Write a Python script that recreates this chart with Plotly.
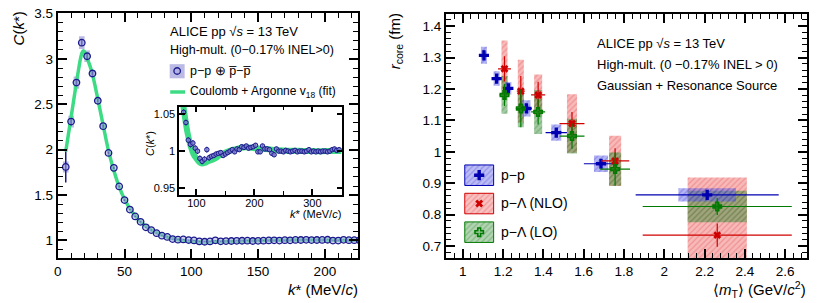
import plotly.graph_objects as go

W, H = 830, 303
FONT = "Liberation Sans, Arial, Helvetica, sans-serif"

# ---------------- left panel: p-p correlation function ----------------
k_star = [6, 10, 14, 18, 22, 26, 30, 34, 38, 42, 46, 50, 54, 58, 62, 66, 70, 74, 78, 82,
          86, 90, 94, 98, 102, 106, 110, 114, 118, 122, 126, 130, 134, 138, 142, 146, 150, 154, 158, 162,
          166, 170, 174, 178, 182, 186, 190, 194, 198, 202, 206, 210, 214, 218, 222, 226, 230, 234, 238, 242,
          246, 250, 254, 258, 262, 266, 270, 274, 278, 282, 286, 290, 294, 298, 302, 306, 310, 314, 318, 322,
          326, 330, 334, 338, 342, 346]
c_pp = [1.81, 2.31, 2.74, 3.18, 3.03, 2.84, 2.54, 2.26, 1.965, 1.80, 1.595, 1.445, 1.34, 1.265, 1.205, 1.145, 1.115, 1.08, 1.053, 1.039,
        1.015, 1.009, 1.011, 1.004, 1.000, 0.990, 0.986, 0.989, 1.002, 0.991, 0.993, 0.994, 0.996, 0.997, 0.998, 0.994, 0.996, 0.998, 1.000, 1.002,
        0.999, 1.003, 1.002, 1.006, 1.005, 1.007, 1.004, 1.005, 1.006, 1.008, 0.999, 0.999, 1.007, 1.003, 1.003, 1.002, 0.997, 0.995, 1.003, 1.000,
        1.000, 0.999, 1.001, 1.000, 0.999, 1.000, 1.001, 0.999, 1.000, 1.000, 0.999, 1.000, 1.002, 0.999, 1.000, 0.999, 1.000, 0.999, 1.000, 1.000,
        0.999, 1.000, 1.002, 1.003, 1.001, 1.002]
c_stat = [0.17, 0.04, 0.035, 0.035, 0.03, 0.025, 0.02, 0.018, 0.015, 0.012, 0.010, 0.009, 0.008, 0.007, 0.006, 0.005, 0.005, 0.004, 0.004, 0.004,
          0.004, 0.004, 0.004, 0.004, 0.004, 0.004, 0.004, 0.004, 0.004, 0.004, 0.003, 0.003, 0.003, 0.003, 0.003, 0.003, 0.003, 0.003, 0.003, 0.003,
          0.003, 0.003, 0.003, 0.003, 0.003, 0.003, 0.003, 0.003, 0.003, 0.003, 0.003, 0.003, 0.003, 0.003, 0.003, 0.003, 0.003, 0.003, 0.003, 0.003,
          0.003, 0.003, 0.003, 0.003, 0.003, 0.003, 0.003, 0.003, 0.003, 0.003, 0.003, 0.003, 0.003, 0.003, 0.003, 0.003, 0.003, 0.003, 0.003, 0.003,
          0.003, 0.003, 0.003, 0.003, 0.003, 0.003]
k_sys = [6, 10, 14, 18, 22, 26, 30, 34]
c_sys_val = [1.81, 2.31, 2.74, 3.18, 3.03, 2.84, 2.54, 2.26]
c_sys = [0.06, 0.065, 0.068, 0.07, 0.063, 0.04, 0.035, 0.032]

fit_k = [6, 8, 10, 12, 14, 16, 17, 18, 19, 20, 21, 22, 24, 26, 28, 30, 34, 38, 42, 46, 50, 55, 60, 65, 70, 75,
         80, 85, 90, 95, 100, 105, 110, 115, 120, 130, 140, 150, 160, 170, 180, 190, 200, 215, 230, 250, 275, 300, 325, 350]
fit_c = [1.98, 2.17, 2.36, 2.55, 2.74, 2.92, 3.00, 3.06, 3.09, 3.08, 3.05, 3.01, 2.93, 2.83, 2.70, 2.56, 2.27, 1.99, 1.77, 1.59,
         1.455, 1.33, 1.235, 1.165, 1.115, 1.078, 1.048, 1.024, 1.007, 0.996, 0.990, 0.985, 0.983, 0.984, 0.986, 0.989, 0.994,
         0.998, 1.001, 1.003, 1.005, 1.005, 1.004, 1.003, 1.002, 1.001, 1.0005, 1.0, 1.0, 1.0]

# ---------------- right panel: r_core vs <mT> ----------------
mt_pp = [1.105, 1.168, 1.226, 1.316, 1.464, 1.686, 2.213]
r_pp = [1.307, 1.233, 1.202, 1.138, 1.061, 0.962, 0.863]
mt_pp_err = [0.02, 0.016, 0.015, 0.026, 0.053, 0.085, 0.355]
r_pp_stat = [0.015, 0.012, 0.012, 0.01, 0.01, 0.01, 0.01]
mt_pp_sys = [0.015, 0.015, 0.015, 0.02, 0.025, 0.035, 0.143]
r_pp_sys = [0.027, 0.023, 0.02, 0.026, 0.026, 0.026, 0.021]

mt_pl = [1.207, 1.288, 1.374, 1.542, 1.756, 2.263]
r_nlo = [1.264, 1.193, 1.181, 1.090, 0.971, 0.735]
mt_nlo_err = [0.032, 0.02, 0.035, 0.062, 0.07, 0.37]
r_nlo_stat = [0.04, 0.048, 0.042, 0.037, 0.04, 0.037]
r_nlo_sys = [0.09, 0.10, 0.065, 0.093, 0.08, 0.183]

r_lo = [1.181, 1.138, 1.127, 1.050, 0.945, 0.826]
mt_lo_err = [0.025, 0.025, 0.035, 0.062, 0.074, 0.37]
r_lo_stat = [0.035, 0.06, 0.04, 0.04, 0.053, 0.027]
r_lo_sys = [0.06, 0.06, 0.07, 0.055, 0.053, 0.05]
mt_pl_sys = [0.015, 0.015, 0.02, 0.025, 0.03, 0.147]

GREEN_FIT = "#3ddc84"
NAVY = "#1a1a8c"
BLUE = "#0000b0"
RED = "#d00000"
DGREEN = "#007a00"


def px(x):
    return x / W


def py(y):
    return 1 - y / H


fig = go.Figure()

# --- left main panel
fig.add_trace(go.Bar(x=k_sys, base=[v - s for v, s in zip(c_sys_val, c_sys)], y=[2 * s for s in c_sys],
                     width=4.2, marker=dict(color="rgba(140,140,210,0.6)", line=dict(width=0)),
                     xaxis="x", yaxis="y"))
fig.add_trace(go.Scatter(x=fit_k, y=fit_c, mode="lines", line=dict(color=GREEN_FIT, width=3.5, shape="spline"),
                         xaxis="x", yaxis="y"))
fig.add_trace(go.Scatter(x=k_star, y=c_pp, mode="markers",
                         marker=dict(symbol="circle", size=6.5, color="rgba(170,170,225,0.55)",
                                     line=dict(color=NAVY, width=1.3)),
                         error_y=dict(type="data", array=c_stat, width=0, thickness=1.5, color=NAVY),
                         xaxis="x", yaxis="y"))

# --- inset
fig.add_trace(go.Scatter(x=fit_k, y=fit_c, mode="lines", line=dict(color=GREEN_FIT, width=6, shape="spline"),
                         xaxis="x3", yaxis="y3"))
fig.add_trace(go.Scatter(x=k_star, y=c_pp, mode="markers",
                         marker=dict(symbol="circle", size=4.5, color="rgba(130,130,210,0.8)",
                                     line=dict(color=NAVY, width=1)),
                         error_y=dict(type="data", array=c_stat, width=0, thickness=1, color=NAVY),
                         xaxis="x3", yaxis="y3"))

# --- right panel systematic boxes
fig.add_trace(go.Bar(x=mt_pl, base=[v - s for v, s in zip(r_nlo, r_nlo_sys)], y=[2 * s for s in r_nlo_sys],
                     width=[2 * w for w in mt_pl_sys],
                     marker=dict(color="rgba(240,100,100,0.45)", line=dict(width=0),
                                 pattern=dict(shape="/", fgcolor="rgba(215,40,40,0.55)", size=4, solidity=0.3,
                                              fillmode="overlay")),
                     xaxis="x2", yaxis="y2"))
fig.add_trace(go.Bar(x=mt_pl, base=[v - s for v, s in zip(r_lo, r_lo_sys)], y=[2 * s for s in r_lo_sys],
                     width=[2 * w for w in mt_pl_sys],
                     marker=dict(color="rgba(50,140,50,0.45)", line=dict(width=0),
                                 pattern=dict(shape="/", fgcolor="rgba(20,100,20,0.55)", size=4, solidity=0.3,
                                              fillmode="overlay")),
                     xaxis="x2", yaxis="y2"))
fig.add_trace(go.Bar(x=mt_pp, base=[v - s for v, s in zip(r_pp, r_pp_sys)], y=[2 * s for s in r_pp_sys],
                     width=[2 * w for w in mt_pp_sys],
                     marker=dict(color="rgba(90,90,230,0.45)", line=dict(width=0),
                                 pattern=dict(shape="/", fgcolor="rgba(30,30,200,0.55)", size=4, solidity=0.3,
                                              fillmode="overlay")),
                     xaxis="x2", yaxis="y2"))

# --- right panel points
fig.add_trace(go.Scatter(x=mt_pp, y=r_pp, mode="markers",
                         marker=dict(symbol="cross", size=8.5, color=BLUE, line=dict(width=0)),
                         error_x=dict(type="data", array=mt_pp_err, width=0, thickness=1.2, color=BLUE),
                         error_y=dict(type="data", array=r_pp_stat, width=0, thickness=1.2, color=BLUE),
                         xaxis="x2", yaxis="y2"))
fig.add_trace(go.Scatter(x=mt_pl, y=r_nlo, mode="markers",
                         marker=dict(symbol="x", size=7, color=RED, line=dict(width=0)),
                         error_x=dict(type="data", array=mt_nlo_err, width=0, thickness=1.2, color=RED),
                         error_y=dict(type="data", array=r_nlo_stat, width=0, thickness=1.2, color=RED),
                         xaxis="x2", yaxis="y2"))
fig.add_trace(go.Scatter(x=mt_pl, y=r_lo, mode="markers",
                         marker=dict(symbol="cross-open", size=7, color=DGREEN, line=dict(width=1.6, color=DGREEN)),
                         error_x=dict(type="data", array=mt_lo_err, width=0, thickness=1.2, color=DGREEN),
                         error_y=dict(type="data", array=r_lo_stat, width=0, thickness=1.2, color=DGREEN),
                         xaxis="x2", yaxis="y2"))

# --- legend glyphs on a pixel overlay axis
fig.add_trace(go.Bar(x=[174], base=[58.5], y=[14.5], width=15,
                     marker=dict(color="rgba(140,140,210,0.6)", line=dict(width=0)), xaxis="x4", yaxis="y4"))
fig.add_trace(go.Scatter(x=[174], y=[65.5], mode="markers",
                         marker=dict(symbol="circle", size=6.5, color="rgba(170,170,225,0.55)",
                                     line=dict(color=NAVY, width=1.3)), xaxis="x4", yaxis="y4"))
fig.add_trace(go.Scatter(x=[167, 182], y=[87, 87], mode="lines", line=dict(color=GREEN_FIT, width=3.5),
                         xaxis="x4", yaxis="y4"))
leg_specs = [
    (161.7, "rgba(90,90,230,0.4)", "rgba(30,30,200,0.55)", BLUE, "cross", 8.5),
    (190.7, "rgba(240,100,100,0.4)", "rgba(215,40,40,0.55)", RED, "x", 7),
    (220.0, "rgba(60,150,60,0.4)", "rgba(20,100,20,0.55)", DGREEN, "cross-open", 7),
]
for top, fc, hc, mc, sym, sz in leg_specs:
    fig.add_trace(go.Bar(x=[477.5], base=[top], y=[21], width=29,
                         marker=dict(color=fc, line=dict(width=1, color=mc),
                                     pattern=dict(shape="/", fgcolor=hc, size=4, solidity=0.3, fillmode="overlay")),
                         xaxis="x4", yaxis="y4"))
    fig.add_trace(go.Scatter(x=[477.5], y=[top + 10.5], mode="markers",
                             marker=dict(symbol=sym, size=sz, color=mc, line=dict(width=1.6 if "open" in sym else 0, color=mc)),
                             xaxis="x4", yaxis="y4"))

common = dict(showline=True, linewidth=2, linecolor="black", mirror="ticks", ticks="inside", ticklen=9,
              tickwidth=1.5, tickcolor="black", showgrid=False, zeroline=False, fixedrange=True,
              tickfont=dict(size=13.5, family=FONT, color="black"), tickmode="linear", tick0=0,
              ticklabeloverflow="allow")


def minor(d, ln=5):
    return dict(ticks="inside", ticklen=ln, tickwidth=1.2, tickcolor="black", dtick=d, tick0=0, showgrid=False)


fig.update_layout(
    width=W, height=H, autosize=False, margin=dict(l=0, r=0, t=0, b=0),
    paper_bgcolor="white", plot_bgcolor="rgba(0,0,0,0)", showlegend=False, barmode="overlay",
    font=dict(family=FONT, size=13, color="black"),
    xaxis=dict(common, domain=[px(54), px(356)], range=[0, 225], dtick=50, minor=minor(10), anchor="y"),
    yaxis=dict(common, domain=[py(257), py(6.5)], range=[0.806, 3.503], dtick=0.5, minor=minor(0.1), anchor="x"),
    xaxis2=dict(common, domain=[px(444), px(807)], range=[0.916, 2.709], dtick=0.2, minor=minor(0.04), anchor="y2"),
    yaxis2=dict(common, domain=[py(257), py(7)], range=[0.662, 1.439], dtick=0.1, minor=minor(0.02), anchor="x2"),
    xaxis3=dict(common, domain=[px(176), px(340)], range=[70.3, 351.6], dtick=100, ticklen=6,
                minor=minor(50, 4), tickfont=dict(size=11, family=FONT, color="black"), anchor="y3", linewidth=1.6,
                ticklabelstandoff=-3),
    yaxis3=dict(common, domain=[py(192), py(102)], range=[0.9407, 1.0607], dtick=0.05, ticklen=6,
                tickfont=dict(size=11, family=FONT, color="black"), anchor="x3", linewidth=1.6),
    xaxis4=dict(domain=[0, 1], range=[0, W], visible=False, fixedrange=True, anchor="y4"),
    yaxis4=dict(domain=[0, 1], range=[H, 0], visible=False, fixedrange=True, anchor="x4"),
)


def ann(text, x, y, xa="left", ya="middle", size=12.5, angle=0):
    fig.add_annotation(text=text, x=px(x), y=py(y), xref="paper", yref="paper", xanchor=xa, yanchor=ya,
                       showarrow=False, textangle=angle, font=dict(family=FONT, size=size, color="black"))


# left texts
ann("ALICE pp √<i>s</i> = 13 TeV", 165, 25.5, size=13)
ann("High-mult. (0−0.17% INEL>0)", 165, 44)
ann("p−p ⊕ p\u0305−p\u0305", 185, 65.5)
ann("Coulomb + Argonne v<sub>18</sub> (fit)", 185, 87, size=12)
ann("<i>C</i>(<i>k</i>*)", 15, 22, xa="center", ya="middle", size=15, angle=-90)
ann("<i>k</i>* (MeV/<i>c</i>)", 358, 289, xa="right", ya="middle", size=15)
ann("<i>C</i>(<i>k</i>*)", 146, 140, xa="center", ya="middle", size=11, angle=-90)
ann("<i>k</i>* (MeV/<i>c</i>)", 341, 212, xa="right", ya="middle", size=11)

# right texts
ann("ALICE pp √<i>s</i> = 13 TeV", 594, 37.5, size=13)
ann("High-mult. (0 −0.17% INEL > 0)", 594, 58.5, size=13)
ann("Gaussian + Resonance Source", 594, 80, size=13)
ann("p−p", 497, 172, size=14)
ann("p−Λ (NLO)", 497, 201, size=14)
ann("p−Λ (LO)", 497, 230, size=14)
ann("<i>r</i><sub>core</sub> (fm)", 393, 35, xa="center", ya="middle", size=15, angle=-90)
ann("\u27e8<i>m</i><sub>T</sub>\u27e9 (GeV/<i>c</i><sup>2</sup>)", 808, 289, xa="right", ya="middle", size=15)

fig.write_html("out.html", config={"displayModeBar": False},
               post_script="document.body.style.margin='0px';document.body.style.overflow='hidden';")
